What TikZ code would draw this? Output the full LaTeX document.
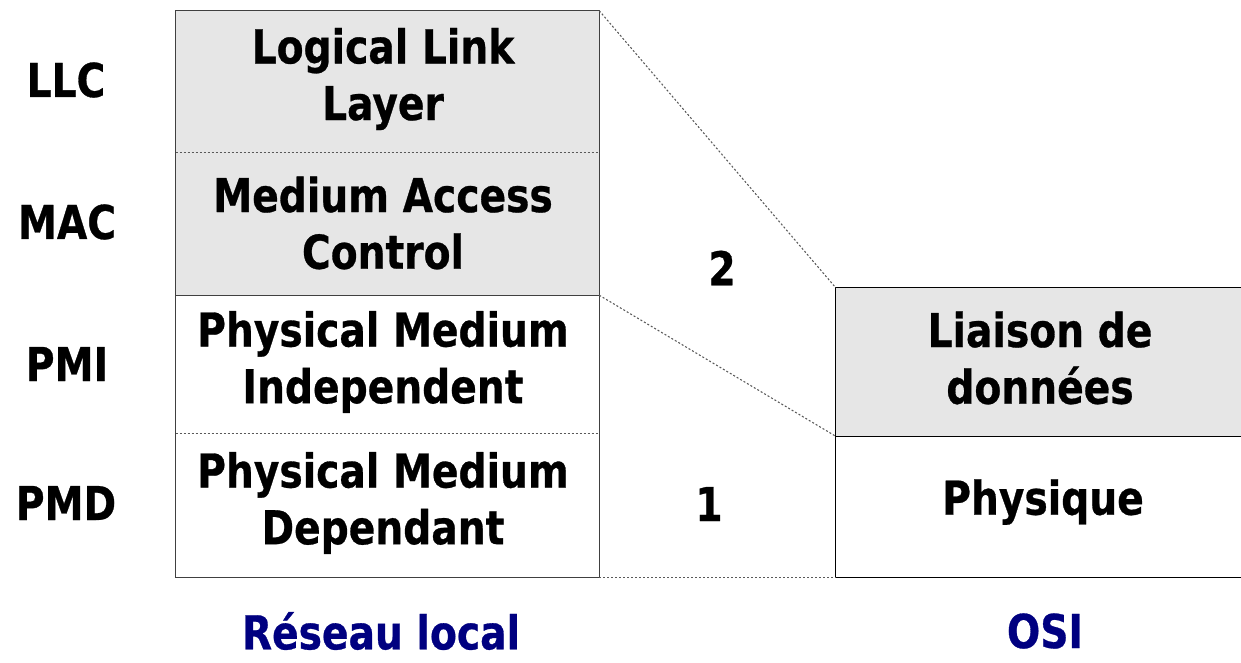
\documentclass[tikz,border=0pt]{standalone}
\usepackage{fontspec}
\setmainfont{DejaVu Sans}[BoldFont={DejaVu Sans Bold},BoldFeatures={FakeStretch=0.84,FakeBold=0.6}]
\definecolor{layergray}{HTML}{E6E6E6}
\definecolor{navyblue}{HTML}{000080}
\definecolor{edgegray}{HTML}{404040}
\tikzset{
  layerfill/.style={fill=layergray, draw=none, inner sep=0pt},
  plainlayer/.style={fill=white, draw=none, inner sep=0pt},
  txt/.style={font=\fontsize{35}{42.5}\selectfont\bfseries, align=center, text=black},
  sidelbl/.style={font=\fontsize{35}{42.5}\selectfont\bfseries, text=black},
  caption/.style={font=\fontsize{35}{42.5}\selectfont\bfseries, text=navyblue, inner sep=0pt},
  outline/.style={draw=edgegray, line width=0.8pt},
  sep/.style={draw=gray!70!black, line width=0.8pt, dash pattern=on 1.5pt off 1.5pt},
  solidsep/.style={draw=edgegray, line width=0.8pt},
}
\begin{document}
\begin{tikzpicture}[x=0.75pt,y=-0.75pt]
\useasboundingbox (0,0) rectangle (1241,662);
% left stack
\node[layerfill, minimum width=423*0.75pt, minimum height=141*0.75pt] (llc) at (387.5,81.5) {};
\node[layerfill, minimum width=423*0.75pt, minimum height=143*0.75pt] (mac) at (387.5,223.5) {};
\node[plainlayer, minimum width=423*0.75pt, minimum height=138*0.75pt] (pmi) at (387.5,364) {};
\node[plainlayer, minimum width=423*0.75pt, minimum height=144*0.75pt] (pmd) at (387.5,505) {};
\node[txt] (tllc) at (383,79) {Logical Link\\Layer};
\node[txt] (tmac) at (383,223) {Medium Access\\Control};
\node[txt] (tpmi) at (383,362) {Physical Medium\\Independent};
\node[txt] (tpmd) at (383,503) {Physical Medium\\Dependant};
\draw[sep] (llc.south west) -- (llc.south east);
\draw[solidsep] (mac.south west) -- (mac.south east);
\draw[sep] (pmi.south west) -- (pmi.south east);
\draw[outline] (llc.north west) rectangle (pmd.south east);
% right stack
\node[layerfill, minimum width=406*0.75pt, minimum height=148*0.75pt] (liaison) at (1039,362) {};
\node[plainlayer, minimum width=406*0.75pt, minimum height=141*0.75pt] (phys) at (1039,506.5) {};
\node[txt] (tliaison) at (1040,358) {Liaison de\\données};
\node[txt] (tphys) at (1043,502) {Physique};
\draw[outline, draw=black] (liaison.south west) -- (liaison.south east);
\draw[outline, draw=black] (liaison.north west) rectangle (phys.south east);
% dotted connectors
\draw[sep] (llc.north east) -- (liaison.north west);
\draw[sep] (mac.south east) -- (liaison.south west);
\draw[sep] (pmd.south east) -- (phys.south west);
% side labels
\node[sidelbl] (lllc) at (66,80) {LLC};
\node[sidelbl] (lmac) at (67,222) {MAC};
\node[sidelbl] (lpmi) at (67,364) {PMI};
\node[sidelbl] (lpmd) at (66,503) {PMD};
\node[sidelbl] (two) at (722,268) {2};
\node[sidelbl] (one) at (709,504) {1};
\node[caption] (reseau) at (381,631) {Réseau local};
\node[caption] (osi) at (1045,631) {OSI};
\end{tikzpicture}
\end{document}
